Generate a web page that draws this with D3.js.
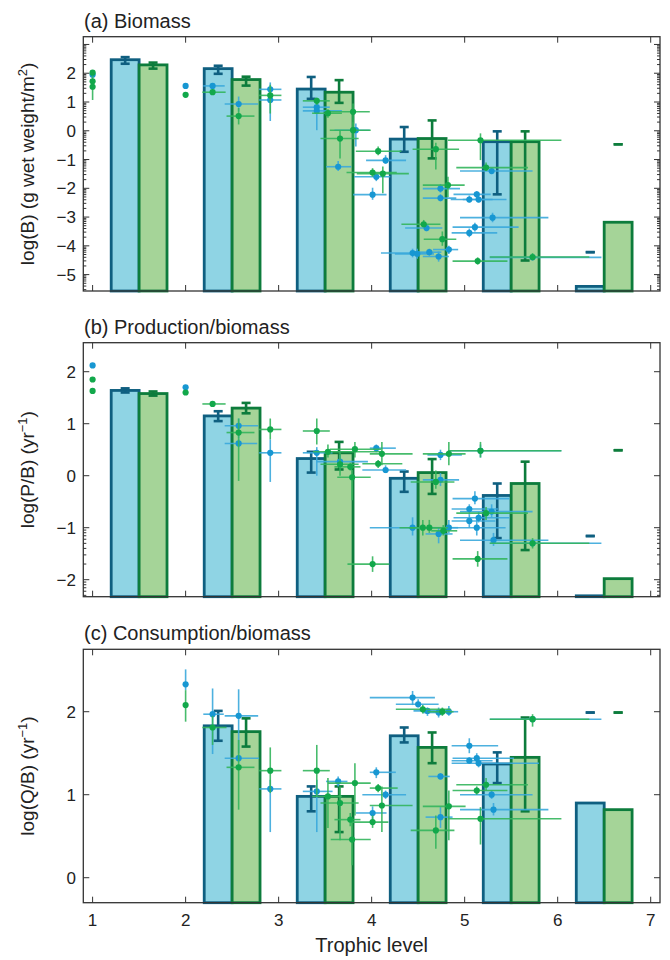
<!DOCTYPE html>
<html><head><meta charset="utf-8">
<script src="https://cdn.jsdelivr.net/npm/d3@7"></script>
<style>body{margin:0;background:#fff}svg{display:block}text{font-family:"Liberation Sans",Arial,Helvetica,sans-serif;fill:#222}</style>
</head><body><svg id="c" width="670" height="960"></svg>
<script>
// ---------- DATA ----------
const bins = [1, 2, 3, 4, 5, 6];
const xTicks = [1, 2, 3, 4, 5, 6, 7];
const panelTitles = ["(a) Biomass", "(b) Production/biomass", "(c) Consumption/biomass"];
const xLabel = "Trophic level";

// bar values (log10) per bin, blue = first series, green = second series
const barA_blue  = [2.47, 2.16, 1.45, -0.29, -0.38, -5.41];
const barA_blueLo = [2.33, 1.98, 1.11, -0.73, -2.21, -4.22];
const barA_blueHi = [2.56, 2.26, 1.87, 0.13, -0.02, -4.22];
const barA_green = [2.29, 1.78, 1.34, -0.27, -0.38, -3.18];
const barA_greenLo = [2.16, 1.57, 0.97, -0.96, -4.51, -0.47];
const barA_greenHi = [2.37, 1.88, 1.76, 0.36, -0.02, -0.47];

const barB_blue  = [1.64, 1.15, 0.33, -0.05, -0.38, -2.31];
const barB_blueLo = [1.60, 1.05, 0.06, -0.31, -1.20, -1.16];
const barB_blueHi = [1.68, 1.24, 0.46, 0.08, -0.15, -1.16];
const barB_green = [1.58, 1.30, 0.44, 0.06, -0.15, -1.98];
const barB_greenLo = [1.54, 1.20, 0.12, -0.35, -1.43, 0.49];
const barB_greenHi = [1.62, 1.40, 0.65, 0.32, 0.27, 0.49];

const barC_blue  = [null, 1.83, 0.98, 1.71, 1.37, 0.90];
const barC_blueLo = [null, 1.65, 0.80, 1.63, 1.14, 1.99];
const barC_blueHi = [null, 2.01, 1.10, 1.81, 1.51, 1.99];
const barC_green = [null, 1.76, 0.98, 1.57, 1.45, 0.82];
const barC_greenLo = [null, 1.58, 0.55, 1.38, 0.80, 1.99];
const barC_greenHi = [null, 1.92, 1.10, 1.75, 1.93, 1.99];

// points: [trophic level, TL low, TL high, value, value low, value high]
const ptsA_blue = [
 [1.00,1.00,1.00,1.95,1.95,1.95],[2.00,2.00,2.00,1.56,1.56,1.56],
 [2.29,2.19,2.42,1.56,1.50,1.62],[2.57,2.42,2.78,0.93,0.67,1.19],
 [2.91,2.79,3.03,1.44,1.25,1.68],[2.91,2.79,3.03,1.07,0.34,1.20],
 [3.41,3.26,3.55,0.82,0.70,0.95],[3.41,3.26,3.68,0.69,0.02,0.96],
 [3.83,3.60,3.98,0.02,-0.55,0.25],[3.64,3.51,3.78,-1.25,-1.40,-1.05],
 [4.15,3.94,4.37,-1.03,-1.15,-0.85],[4.05,3.81,4.20,-1.60,-1.75,-1.45],
 [4.01,3.80,4.16,-2.22,-2.40,-1.98],[4.74,4.55,4.95,-2.01,-2.15,-1.85],
 [4.74,4.55,4.91,-2.34,-2.45,-2.20],[4.59,4.36,4.76,-3.38,-3.50,-3.25],
 [4.44,4.10,4.60,-4.25,-4.40,-4.10],[4.49,4.25,4.67,-4.28,-4.45,-4.10],
 [4.62,4.45,4.75,-4.22,-4.35,-4.10],[4.72,4.55,4.83,-4.37,-4.55,-4.20],
 [4.83,4.66,4.93,-4.13,-4.28,-4.00],[5.29,4.95,5.73,-1.40,-1.50,-1.30],
 [5.13,4.88,5.28,-2.21,-2.35,-2.10],[5.05,4.85,5.30,-2.39,-2.50,-2.25],
 [5.15,4.98,5.45,-2.39,-2.50,-2.20],[5.30,4.95,5.90,-3.02,-3.18,-2.85],
 [5.11,4.87,5.58,-3.35,-3.50,-3.20],[5.05,4.86,5.35,-3.55,-3.70,-3.40],
 [5.73,5.27,6.47,-4.40,-4.40,-4.40]
];
const ptsA_green = [
 [1.00,1.00,1.00,2.02,2.02,2.02],[1.00,1.00,1.00,1.72,1.72,1.72],
 [1.00,1.00,1.00,1.53,1.07,1.90],[2.00,2.00,2.00,1.25,1.25,1.25],
 [2.29,2.18,2.43,1.34,1.34,1.34],[2.57,2.44,2.74,0.51,0.22,0.79],
 [2.91,2.79,3.03,1.23,0.60,1.60],[3.41,3.26,3.55,1.04,0.90,1.15],
 [3.53,3.36,3.68,0.61,0.45,0.75],[3.80,3.53,3.98,0.66,0.02,0.95],
 [3.80,3.55,3.99,0.02,-0.25,0.30],[3.66,3.45,3.86,-0.27,-0.96,0.02],
 [4.07,3.83,4.32,-0.71,-0.85,-0.55],[4.01,3.73,4.27,-1.45,-1.60,-1.30],
 [4.12,3.84,4.40,-1.49,-2.17,-1.24],[4.69,4.44,4.94,-0.64,-1.35,-0.42],
 [4.82,4.55,5.00,-1.89,-2.30,-1.60],[4.56,4.32,4.74,-3.25,-3.35,-3.10],
 [4.76,4.56,4.91,-3.77,-4.00,-3.50],[5.17,4.82,6.04,-0.33,-1.02,-0.09],
 [5.23,4.91,5.68,-1.28,-1.40,-1.10],[5.14,4.87,5.46,-4.53,-4.65,-4.40],
 [5.73,5.27,6.34,-4.39,-4.50,-4.25]
];
const ptsB_blue = [
 [1.00,1.00,1.00,2.12,2.12,2.12],[2.00,2.00,2.00,1.70,1.70,1.70],
 [2.57,2.42,2.78,0.96,0.72,1.10],[2.57,2.42,2.77,0.62,0.55,0.70],
 [2.91,2.79,3.03,0.44,-0.12,0.70],[3.41,3.26,3.58,0.44,0.00,0.55],
 [3.66,3.41,3.96,0.27,0.15,0.40],[4.05,3.98,4.26,0.53,0.45,0.60],
 [4.15,3.90,4.37,0.11,0.05,0.20],[4.74,4.60,4.97,0.40,0.30,0.50],
 [4.74,4.55,4.94,-0.08,-0.20,0.05],[4.44,3.98,4.62,-1.00,-1.15,-0.80],
 [4.72,4.58,4.87,-1.12,-1.30,-1.00],[4.83,4.60,4.93,-1.00,-1.10,-0.85],
 [5.11,4.87,5.48,-0.44,-0.55,-0.30],[5.05,4.86,5.36,-0.64,-0.75,-0.55],
 [5.05,4.86,5.33,-0.87,-1.00,-0.75],[5.15,4.88,5.48,-0.81,-0.90,-0.70],
 [5.13,4.86,5.44,-1.00,-1.15,-0.85],[5.29,4.95,5.73,-0.69,-0.80,-0.55],
 [5.31,4.95,5.90,-1.24,-1.35,-1.10],[5.17,4.82,6.04,0.48,0.35,0.60],
 [5.73,5.27,6.47,-1.30,-1.30,-1.30]
];
const ptsB_green = [
 [1.00,1.00,1.00,1.85,1.85,1.85],[1.00,1.00,1.00,1.63,1.63,1.63],
 [2.00,2.00,2.00,1.60,1.60,1.60],[2.29,2.18,2.43,1.38,1.38,1.38],
 [2.57,2.44,2.74,0.83,-0.10,1.10],[2.91,2.79,3.03,0.89,0.70,1.10],
 [3.41,3.26,3.55,0.86,0.60,1.10],[3.53,3.37,4.09,0.46,0.35,0.60],
 [3.82,3.55,4.10,0.51,0.35,0.65],[3.66,3.45,3.86,0.22,0.00,0.45],
 [3.77,3.60,3.88,0.17,0.10,0.25],[3.79,3.63,3.99,-0.03,-0.47,0.11],
 [4.11,3.98,4.44,0.42,0.20,0.65],[4.07,3.90,4.33,0.23,0.15,0.30],
 [4.01,3.74,4.19,-1.70,-1.85,-1.55],[4.83,4.55,5.01,0.42,0.20,0.65],
 [4.69,4.42,4.89,-0.12,-0.25,0.10],[4.55,4.30,4.80,-1.00,-1.15,-0.85],
 [4.62,4.40,4.82,-1.00,-1.10,-0.85],[4.77,4.64,4.92,-1.06,-1.15,-0.95],
 [5.17,4.82,6.04,0.48,0.35,0.65],[5.23,4.91,5.68,-0.72,-0.85,-0.60],
 [5.14,4.87,5.46,-1.60,-1.75,-1.45],[5.73,5.27,6.34,-1.30,-1.40,-1.20]
];
const ptsC_blue = [
 [2.00,2.00,2.00,2.33,2.26,2.51],[2.29,2.19,2.41,1.97,1.49,2.28],
 [2.57,2.42,2.78,1.95,1.50,2.27],[2.57,2.42,2.79,1.44,1.40,1.48],
 [2.91,2.79,3.03,1.07,0.55,1.18],[3.41,3.26,3.58,1.04,0.55,1.18],
 [3.64,3.51,3.74,1.16,1.10,1.22],[4.05,3.98,4.26,1.27,1.20,1.33],
 [4.15,3.90,4.37,1.00,0.95,1.05],[4.01,3.83,4.16,0.78,0.70,0.86],
 [4.44,3.98,4.68,2.17,2.08,2.25],[4.50,4.26,4.72,2.09,2.05,2.15],
 [4.60,4.45,4.80,2.01,1.95,2.05],[4.72,4.55,4.85,1.99,1.93,2.05],
 [4.83,4.66,4.93,2.00,1.95,2.07],[4.74,4.61,4.84,1.22,1.18,1.26],
 [4.74,4.58,4.87,0.73,0.60,0.85],[5.05,4.86,5.36,1.59,1.50,1.68],
 [5.13,4.87,5.53,1.44,1.38,1.50],[5.05,4.86,5.30,1.41,1.37,1.45],
 [5.15,4.86,5.80,1.38,1.33,1.45],[5.29,4.95,5.73,1.00,0.95,1.05],
 [5.31,4.95,5.90,0.82,0.75,0.90],[5.73,5.27,6.47,1.91,1.91,1.91]
];
const ptsC_green = [
 [2.00,2.00,2.00,2.08,1.88,2.26],[2.29,2.18,2.44,1.81,1.60,1.95],
 [2.57,2.44,2.74,1.33,0.82,1.66],[2.91,2.79,3.03,1.29,1.02,1.57],
 [3.41,3.26,3.55,1.29,0.98,1.60],[3.53,3.36,3.68,0.98,0.60,1.20],
 [3.66,3.45,3.86,0.90,0.45,1.10],[3.82,3.53,3.99,1.14,0.75,1.38],
 [3.77,3.60,3.88,0.70,0.62,0.78],[3.79,3.56,3.99,0.46,0.15,0.70],
 [4.07,3.98,4.28,1.08,1.03,1.13],[4.11,3.98,4.44,0.87,0.55,1.10],
 [4.01,3.78,4.18,0.67,0.60,0.75],[4.55,4.26,4.85,2.03,1.98,2.08],
 [4.76,4.60,4.88,2.00,1.95,2.05],[4.83,4.55,5.01,0.86,0.45,1.05],
 [4.69,4.42,4.89,0.57,0.35,0.75],[5.23,4.91,5.68,1.12,1.05,1.20],
 [5.13,4.87,5.46,1.05,1.00,1.10],[5.17,4.82,6.04,0.71,0.40,0.85],
 [5.73,5.27,6.34,1.91,1.82,1.97]
];

const yTicksA = [-5, -4, -3, -2, -1, 0, 1, 2];
const yTicksB = [-2, -1, 0, 1, 2];
const yTicksC = [0, 1, 2];

// ---------- STYLE ----------
const C = {
  blueFill: "#8fd4e4", blueStroke: "#0f5f80", bluePt: "#1797d2", blueErr: "#3aa8dc",
  greenFill: "#a5d498", greenStroke: "#0d7c3c", greenPt: "#12a84b", greenErr: "#33b55c",
  axis: "#333"
};

const svg = d3.select("#c");
const x = d3.scaleLinear().domain([0.9, 7.1]).range([83.3, 660]);

const panels = [
  {title: panelTitles[0], top: 36.7, bottom: 291, domain: [-5.57, 3.27], ticks: yTicksA, extraTicks: [3],
   minor: n => true, label: ["log(B) (g wet weight/m", "2", ")"],
   bars: [[barA_blue, barA_blueLo, barA_blueHi], [barA_green, barA_greenLo, barA_greenHi]],
   pts: [ptsA_blue, ptsA_green]},
  {title: panelTitles[1], top: 342.7, bottom: 596.7, domain: [-2.327, 2.558], ticks: yTicksB, extraTicks: [],
   minor: n => n < 0, label: ["log(P/B) (yr", "−1", ")"],
   bars: [[barB_blue, barB_blueLo, barB_blueHi], [barB_green, barB_greenLo, barB_greenHi]],
   pts: [ptsB_blue, ptsB_green]},
  {title: panelTitles[2], top: 649.3, bottom: 902.7, domain: [-0.301, 2.752], ticks: yTicksC, extraTicks: [],
   minor: n => false, label: ["log(Q/B) (yr", "−1", ")"],
   bars: [[barC_blue, barC_blueLo, barC_blueHi], [barC_green, barC_greenLo, barC_greenHi]],
   pts: [ptsC_blue, ptsC_green]}
];

const fmt = v => (v < 0 ? "\u2212" : "") + Math.abs(v);

panels.forEach((p, pi) => {
  const y = d3.scaleLinear().domain(p.domain).range([p.bottom, p.top]);
  const g = svg.append("g");
  const [x0, x1] = x.range();

  // bars
  const series = [
    {off: 0.2, fill: C.blueFill, stroke: C.blueStroke},
    {off: 0.5, fill: C.greenFill, stroke: C.greenStroke}
  ];
  series.forEach((s, si) => {
    const [vals, lo, hi] = p.bars[si];
    const data = bins.map((b, i) => ({b, v: vals[i], lo: lo[i], hi: hi[i]}));
    g.append("g").selectAll("rect").data(data).join("rect")
      .attr("x", d => x(d.b + s.off))
      .attr("width", d => x(d.b + s.off + 0.3) - x(d.b + s.off))
      .attr("y", d => d.v == null ? p.bottom : y(d.v))
      .attr("height", d => d.v == null ? 0 : p.bottom - y(d.v))
      .attr("fill", s.fill).attr("stroke", s.stroke).attr("stroke-width", 2.8);
    const eb = g.append("g").attr("stroke", s.stroke).attr("stroke-width", 2.6).attr("fill", "none");
    data.filter(d => d.lo != null).forEach(d => {
      const cx = x(d.b + s.off + 0.15);
      eb.append("line").attr("x1", cx).attr("x2", cx).attr("y1", y(d.lo)).attr("y2", y(d.hi));
      [d.lo, d.hi].forEach(v => eb.append("line").attr("x1", cx - 4.5).attr("x2", cx + 4.5).attr("y1", y(v)).attr("y2", y(v)));
    });
  });

  // points with error bars
  const ptStyles = [{pt: C.bluePt, err: C.blueErr}, {pt: C.greenPt, err: C.greenErr}];
  ptStyles.forEach((st, si) => {
    const pts = p.pts[si];
    const eg = g.append("g").attr("stroke", st.err).attr("stroke-width", 1.6).attr("stroke-opacity", 0.9);
    pts.forEach(d => {
      if (d[2] > d[1]) eg.append("line").attr("x1", x(d[1])).attr("x2", x(d[2])).attr("y1", y(d[3])).attr("y2", y(d[3]));
      if (d[5] > d[4]) eg.append("line").attr("x1", x(d[0])).attr("x2", x(d[0])).attr("y1", y(d[4])).attr("y2", y(d[5]));
    });
    g.append("g").selectAll("circle").data(pts).join("circle")
      .attr("cx", d => x(d[0])).attr("cy", d => y(d[3])).attr("r", 3.1).attr("fill", st.pt);
  });

  // frame
  g.append("rect").attr("x", x0).attr("y", p.top).attr("width", x1 - x0).attr("height", p.bottom - p.top)
    .attr("fill", "none").attr("stroke", C.axis).attr("stroke-width", 1.3);

  // x ticks (inward, top and bottom)
  const tg = g.append("g").attr("stroke", C.axis).attr("stroke-width", 1);
  xTicks.forEach(t => {
    tg.append("line").attr("x1", x(t)).attr("x2", x(t)).attr("y1", p.bottom).attr("y2", p.bottom - 6);
    tg.append("line").attr("x1", x(t)).attr("x2", x(t)).attr("y1", p.top).attr("y2", p.top + 6);
  });
  // y ticks, major + log-style minor
  p.ticks.concat(p.extraTicks).forEach(t => {
    tg.append("line").attr("x1", x0).attr("x2", x0 + 6).attr("y1", y(t)).attr("y2", y(t));
    tg.append("line").attr("x1", x1).attr("x2", x1 - 6).attr("y1", y(t)).attr("y2", y(t));
  });
  const nLo = Math.floor(p.domain[0]), nHi = Math.floor(p.domain[1]);
  for (let n = nLo; n <= nHi; n++) {
    if (!p.minor(n + 1)) continue;
    for (let k = 2; k <= 9; k++) {
      const v = n + Math.log10(k);
      if (v < p.domain[0] || v > p.domain[1]) continue;
      tg.append("line").attr("x1", x0).attr("x2", x0 + 3).attr("y1", y(v)).attr("y2", y(v));
      tg.append("line").attr("x1", x1).attr("x2", x1 - 3).attr("y1", y(v)).attr("y2", y(v));
    }
  }
  // y tick labels
  g.append("g").selectAll("text").data(p.ticks).join("text")
    .attr("x", 76).attr("y", d => y(d)).attr("dy", "0.36em").attr("text-anchor", "end")
    .attr("font-size", 17).text(fmt);

  // title
  g.append("text").attr("x", 84).attr("y", p.top - 9).attr("font-size", 20).text(p.title);

  // y label
  const yl = g.append("text").attr("transform", `translate(34,${(p.top + p.bottom) / 2}) rotate(-90)`)
    .attr("text-anchor", "middle").attr("font-size", 19);
  yl.append("tspan").text(p.label[0]);
  yl.append("tspan").attr("dy", -7).attr("font-size", 13).text(p.label[1]);
  yl.append("tspan").attr("dy", 7).text(p.label[2]);

  // x tick labels on last panel
  if (pi === 2) {
    g.append("g").selectAll("text").data(xTicks).join("text")
      .attr("x", d => x(d)).attr("y", 926).attr("text-anchor", "middle").attr("font-size", 17).text(d => d);
    g.append("text").attr("x", (x0 + x1) / 2).attr("y", 952).attr("text-anchor", "middle")
      .attr("font-size", 20).text(xLabel);
  }
});
</script></body></html>
